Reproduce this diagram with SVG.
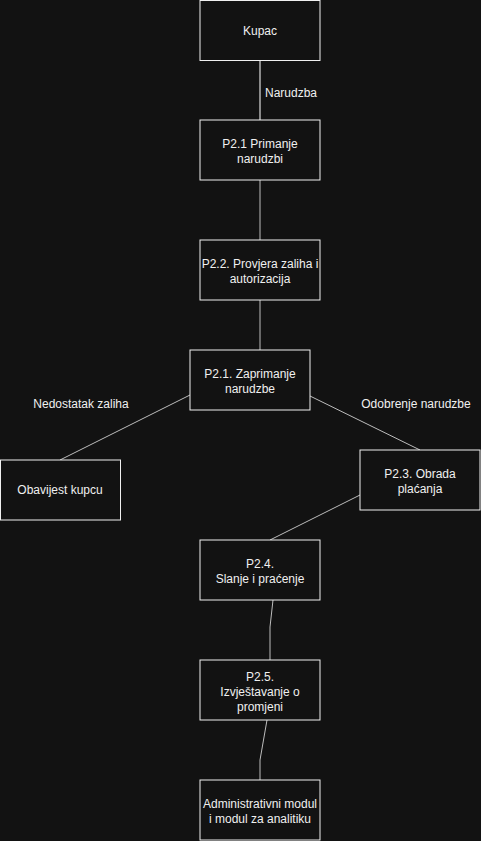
<svg xmlns="http://www.w3.org/2000/svg" width="481" height="841" viewBox="0 0 481 841">
<style>
.n rect{fill:#121212;stroke:#f0f0f0;stroke-width:1}
text{font-family:"Liberation Sans",Arial,sans-serif;font-size:12px;fill:#f0f0f0;text-anchor:middle}
.e{fill:none;stroke:#bdbdbd;stroke-width:1}
</style>
<rect width="481" height="841" fill="#121212"/>
<g id="edges">
<path class="e" d="M260,60 L260,120" stroke="#888" style="stroke:#8a8a8a;stroke-width:2"/>
<path class="e" d="M260,180 L260,240"/>
<path class="e" d="M260,300 L260,350"/>
<path class="e" d="M190,395 L60,460"/>
<path class="e" d="M310,396 L420,450"/>
<path class="e" d="M360,495 L270,540"/>
<path class="e" d="M273,600 L270,627 L270,660"/>
<path class="e" d="M267,720 L260,760 L260,780"/>
<text x="265" y="97" style="text-anchor:start">Narudzba</text>
<text x="81" y="408">Nedostatak zaliha</text>
<text x="416" y="408">Odobrenje narudzbe</text>
</g>
<g id="kupac" class="n"><rect x="200" y="0.5" width="120" height="60"/><text x="260" y="35">Kupac</text></g>
<g id="p21a" class="n"><rect x="200" y="120" width="120" height="60"/><text x="260" y="148">P2.1 Primanje</text><text x="260" y="163">narudzbi</text></g>
<g id="p22" class="n"><rect x="200" y="240" width="120" height="60"/><text x="260" y="268">P2.2. Provjera zaliha i</text><text x="260" y="283">autorizacija</text></g>
<g id="p21b" class="n"><rect x="190" y="350" width="120" height="60"/><text x="250" y="378">P2.1. Zaprimanje</text><text x="250" y="393">narudzbe</text></g>
<g id="obavijest" class="n"><rect x="0.5" y="460" width="120" height="60"/><text x="60" y="494">Obavijest kupcu</text></g>
<g id="p23" class="n"><rect x="360" y="450" width="120" height="60"/><text x="420" y="478">P2.3. Obrada</text><text x="420" y="493">plaćanja</text></g>
<g id="p24" class="n"><rect x="200" y="540" width="120" height="60"/><text x="260" y="568">P2.4.</text><text x="260" y="583">Slanje i praćenje</text></g>
<g id="p25" class="n"><rect x="200" y="660" width="120" height="60"/><text x="260" y="681">P2.5.</text><text x="260" y="696">Izvještavanje o</text><text x="260" y="711">promjeni</text></g>
<g id="admin" class="n"><rect x="200" y="780" width="120" height="60"/><text x="260" y="808">Administrativni modul</text><text x="260" y="823">i modul za analitiku</text></g>
</svg>
